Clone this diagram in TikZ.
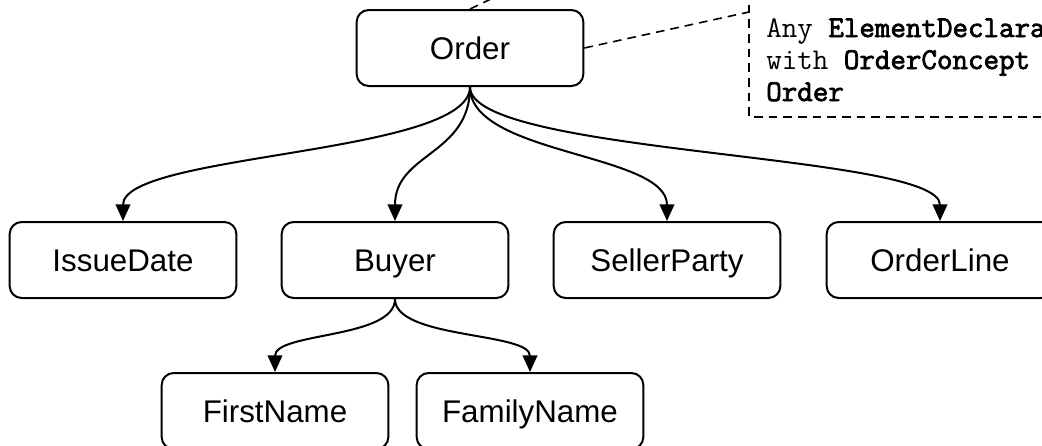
\documentclass[tikz,border=0pt]{standalone}
\usepackage{fontspec}
\setmainfont{Liberation Sans}
\newfontfamily\codefont{Latin Modern Mono}[BoldFont={Latin Modern Mono}, BoldFeatures={FakeBold=2.5}]
\usetikzlibrary{arrows.meta}
\begin{document}
\begin{tikzpicture}[x=0.75pt,y=-0.75pt,
  box/.style={draw, line width=1.5pt, rounded corners=9pt,
    minimum width=170pt, minimum height=57pt, inner sep=0pt,
    text height=16.8pt, text depth=0pt,
    font=\fontsize{23.5}{28}\selectfont},
  link/.style={line width=1.5pt, -{Triangle[length=12.5pt,width=11pt]}},
  notelink/.style={line width=1.2pt, dash pattern=on 6.5pt off 4.5pt},
  noteframe/.style={line width=1.5pt, dash pattern=on 6.5pt off 4.5pt},
  notetext/.style={anchor=base west, inner sep=0pt,
    font=\codefont\fontsize{22.6}{27}\selectfont}]
\useasboundingbox (0,0) rectangle (1042,446);
\clip (0,0) rectangle (1042,446);

% element tree
\node[box] (order)  at (470,48)  {Order};
\node[box] (issue)  at (123,260) {IssueDate};
\node[box] (buyer)  at (395,260) {Buyer};
\node[box] (seller) at (667,260) {SellerParty};
\node[box] (line)   at (940,260) {OrderLine};
\node[box] (first)  at (275,411) {FirstName};
\node[box] (family) at (530,411) {FamilyName};

% curved parent-child connectors
\foreach \c in {issue,buyer,seller,line}
  \draw[link] (order.south) .. controls +(0,68) and +(0,-68) .. (\c.north);
\foreach \c in {first,family}
  \draw[link] (buyer.south) .. controls +(0,40) and +(0,-40) .. (\c.north);

% annotation box
\draw[noteframe] (749,-10) rectangle (1070,117);
\node[notetext] (note1) at (766,37)  {Any \textbf{ElementDeclara}};
\node[notetext] (note2) at (766,69)  {with \textbf{OrderConcept}};
\node[notetext] (note3) at (766,101) {\textbf{Order}};

% dashed annotation links
\coordinate (notecorner) at (749,12);
\coordinate (upper) at (514,-12);
\draw[notelink] (order.east) -- (notecorner);
\draw[notelink] (order.north) -- (upper);
\end{tikzpicture}
\end{document}
